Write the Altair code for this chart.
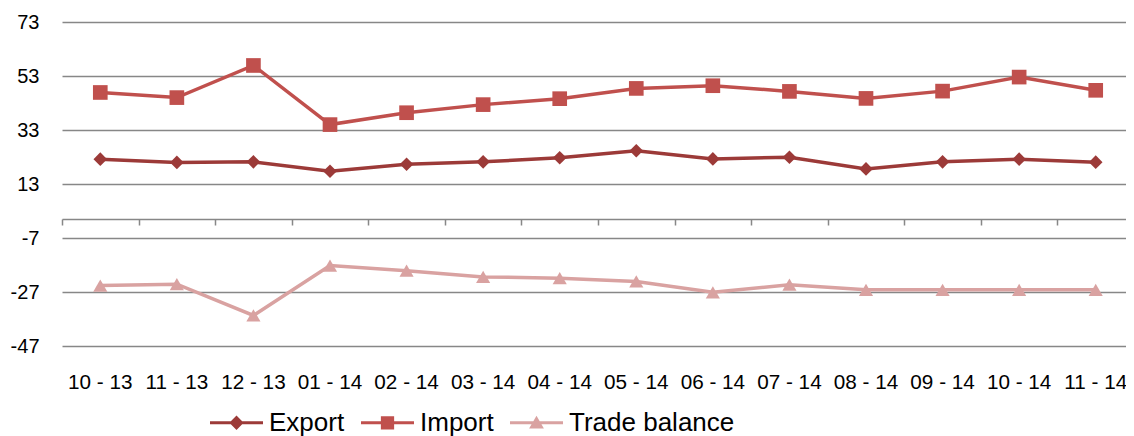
import altair as alt
import pandas as pd

months = ["10 - 13", "11 - 13", "12 - 13", "01 - 14", "02 - 14", "03 - 14", "04 - 14",
          "05 - 14", "06 - 14", "07 - 14", "08 - 14", "09 - 14", "10 - 14", "11 - 14"]
export = [22.2, 21.0, 21.2, 17.7, 20.3, 21.2, 22.7, 25.3, 22.3, 22.9, 18.6, 21.2, 22.2, 21.1]
imports = [46.9, 45.0, 56.9, 35.0, 39.4, 42.4, 44.6, 48.4, 49.4, 47.3, 44.7, 47.4, 52.6, 47.7]
balance = [-24.6, -24.1, -35.7, -17.2, -19.1, -21.4, -21.9, -23.1, -27.1, -24.3, -26.2, -26.2, -26.2, -26.2]
series = ["Export", "Import", "Trade balance"]
colors = ["#9c3a38", "#c0504d", "#d9a2a1"]
y_ticks = [-47, -27, -7, 13, 33, 53, 73]

FONT = "Liberation Sans"
GRID = "#878787"

df = pd.DataFrame({
    "month": months * 3,
    "series": [s for s in series for _ in months],
    "value": export + imports + balance,
})

xscale = alt.Scale(type="band", domain=months, paddingInner=0, paddingOuter=0)
yscale = alt.Scale(domain=[-47, 73], nice=False, zero=False)

yaxis = alt.Axis(
    values=y_ticks, grid=True, gridColor=GRID, gridWidth=1.5, domain=False, ticks=False,
    labelExpr="toString(datum.value)",
    labelFont=FONT, labelFontSize=20, labelColor="#000000", labelPadding=23, title=None)

xaxis_labels = alt.Axis(
    orient="bottom", labelFont=FONT, labelFontSize=20.7, labelColor="#000000",
    labelPadding=26, labelAngle=0, ticks=False, domain=False, grid=False, title=None)

xaxis_zero = alt.Axis(
    orient="bottom", offset=-127, labels=False, ticks=True, tickBand="extent",
    tickSize=6, tickColor=GRID, tickWidth=1.5, domain=True, domainColor=GRID,
    domainWidth=1.5, grid=False, title=None)

base = alt.Chart(df)

shapes = ["diamond", "square", "triangle-up"]
sizes = [185, 215, 200]
layers = []
for i, (s, c, sh, sz) in enumerate(zip(series, colors, shapes, sizes)):
    sub = base.transform_filter(alt.datum.series == s)
    layers.append(
        sub.mark_line(strokeWidth=3.5, color=c).encode(
            x=alt.X("month:N", scale=xscale, axis=xaxis_labels if i == 0 else None),
            y=alt.Y("value:Q", scale=yscale, axis=yaxis),
        )
    )
for i, (s, c, sh, sz) in enumerate(zip(series, colors, shapes, sizes)):
    sub = base.transform_filter(alt.datum.series == s)
    layers.append(
        sub.mark_point(filled=True, opacity=1, shape=sh, size=sz, color=c).encode(
            x=alt.X("month:N", scale=xscale, axis=None),
            y=alt.Y("value:Q", scale=yscale, axis=yaxis),
        )
    )

bar = "M-1,-0.06H1V0.06H-1Z"
paths = [
    bar + "M0,-0.27L0.27,0L0,0.27L-0.27,0Z",
    bar + "M-0.25,-0.25H0.25V0.25H-0.25Z",
    bar + "M0,-0.26L0.28,0.22H-0.28Z",
]

legend_props = dict(
    orient="none", legendX=148, legendY=374, direction="horizontal", title=None,
    labelFont=FONT, labelFontSize=26, labelColor="#000000", labelOffset=6,
    labelLimit=400, columnPadding=16, symbolSize=2809, symbolStrokeWidth=0,
    symbolOpacity=1,
)

leg = (
    base.transform_filter("datum.value > 1000")
    .mark_point(filled=True, opacity=1)
    .encode(
        x=alt.X("month:N", scale=xscale, axis=xaxis_zero),
        y=alt.Y("value:Q", scale=yscale, axis=yaxis),
        color=alt.Color("series:N", scale=alt.Scale(domain=series, range=colors),
                        legend=alt.Legend(**legend_props)),
        shape=alt.Shape("series:N", scale=alt.Scale(domain=series, range=paths),
                        legend=alt.Legend(**legend_props)),
    )
)
layers.append(leg)

chart = (
    alt.layer(*layers)
    .properties(
        width=1072, height=324,
        padding={"left": 54, "top": 14, "right": -8, "bottom": 90},
        autosize=alt.AutoSizeParams(type="none"),
        background="white",
    )
    .resolve_axis(x="independent")
    .configure_view(stroke=None)
)

chart.save("out.html", embed_options={"renderer": "svg", "actions": False})
